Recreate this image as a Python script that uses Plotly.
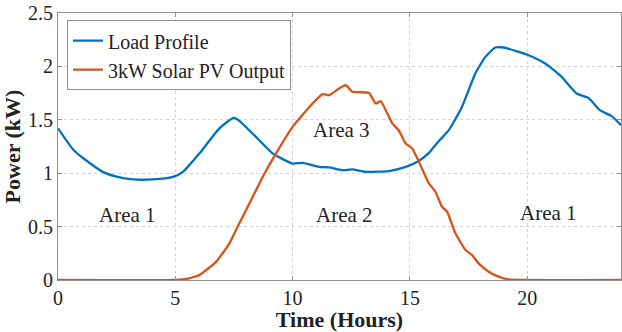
import plotly.graph_objects as go

load_t = [0, 0.65, 1.08, 1.93, 2.49, 3.2, 4.05, 4.9, 5.33, 6.03, 6.88, 7.49, 7.73, 8.16, 8.44, 9.15, 10.0, 10.43, 11.13, 11.56, 12.13, 12.55, 13.12, 14.1, 14.82, 15.38, 15.81, 16.23, 16.66, 17.22, 17.79, 18.22, 18.64, 19.0, 19.63, 20.06, 20.77, 21.47, 22.11, 22.61, 23.1, 23.6, 24]
load_p = [1.42, 1.22, 1.14, 1.01, 0.967, 0.942, 0.942, 0.966, 1.013, 1.185, 1.42, 1.518, 1.49, 1.40, 1.34, 1.185, 1.09, 1.097, 1.06, 1.054, 1.029, 1.035, 1.013, 1.02, 1.06, 1.115, 1.19, 1.30, 1.403, 1.621, 1.934, 2.089, 2.177, 2.177, 2.136, 2.105, 2.027, 1.902, 1.746, 1.705, 1.59, 1.534, 1.45]

pv_t = [0, 5.0, 5.5, 6.03, 6.74, 7.31, 7.66, 8.16, 8.73, 9.2, 10.0, 10.85, 11.28, 11.56, 11.98, 12.27, 12.55, 13.26, 13.54, 13.76, 14.25, 14.53, 14.82, 15.1, 15.38, 15.81, 16.09, 16.37, 16.59, 16.94, 17.37, 17.65, 17.93, 18.36, 18.78, 19.2, 24]
pv_p = [0, 0, 0.01, 0.047, 0.17, 0.343, 0.5, 0.717, 0.966, 1.15, 1.434, 1.653, 1.74, 1.73, 1.793, 1.824, 1.762, 1.752, 1.653, 1.674, 1.466, 1.40, 1.279, 1.232, 1.11, 0.905, 0.826, 0.686, 0.639, 0.437, 0.281, 0.234, 0.156, 0.078, 0.031, 0.006, 0]

series_names = ["Load Profile", "3kW Solar PV Output"]
area_labels = ["Area 1", "Area 3", "Area 2", "Area 1"]
area_x = [2.97, 12.1, 12.2, 20.9]
area_y = [0.61, 1.40, 0.61, 0.63]

x_ticks = [0, 5, 10, 15, 20]
y_ticks = [0, 0.5, 1, 1.5, 2, 2.5]

FONT = "Liberation Serif"
BLUE = "#0072BD"
ORANGE = "#D95319"

fig = go.Figure()
fig.add_trace(go.Scatter(x=load_t, y=load_p, mode="lines", name=series_names[0],
                         line=dict(color=BLUE, width=2.3, shape="spline", smoothing=0.5)))
fig.add_trace(go.Scatter(x=pv_t, y=pv_p, mode="lines", name=series_names[1],
                         line=dict(color=ORANGE, width=2.3, shape="spline", smoothing=0.4)))

for txt, ax_, ay_ in zip(area_labels, area_x, area_y):
    fig.add_annotation(x=ax_, y=ay_, text=txt, showarrow=False,
                       font=dict(family=FONT, size=21, color="#222222"))

axis_common = dict(showline=True, linecolor="#909090", linewidth=1, mirror="ticks",
                   ticks="inside", ticklen=4, tickcolor="#909090",
                   showgrid=True, gridcolor="#d4d4d4", griddash="dot", gridwidth=1,
                   zeroline=False, tickfont=dict(family=FONT, size=20, color="#222222"))

fig.update_xaxes(range=[0, 24], tickvals=x_ticks, ticktext=[str(v) for v in x_ticks],
                 title=dict(text="<b>Time (Hours)</b>", font=dict(family=FONT, size=22, color="#222222"), standoff=0),
                 **axis_common)
fig.update_yaxes(range=[0, 2.5], tickvals=y_ticks, ticktext=["0", "0.5", "1", "1.5", "2", "2.5"],
                 title=dict(text="<b>Power (kW)</b>", font=dict(family=FONT, size=22, color="#222222"), standoff=3),
                 **axis_common)

fig.update_layout(
    width=622, height=332,
    margin=dict(l=58, r=1, t=13, b=52),
    paper_bgcolor="white", plot_bgcolor="white",
    font=dict(family=FONT, color="#222222"),
    legend=dict(x=0.016, y=0.973, xanchor="left", yanchor="top",
                bgcolor="white", bordercolor="#909090", borderwidth=1,
                font=dict(family=FONT, size=20, color="#222222"),
                itemwidth=30, tracegroupgap=0),
)

fig.write_html("out.html")
